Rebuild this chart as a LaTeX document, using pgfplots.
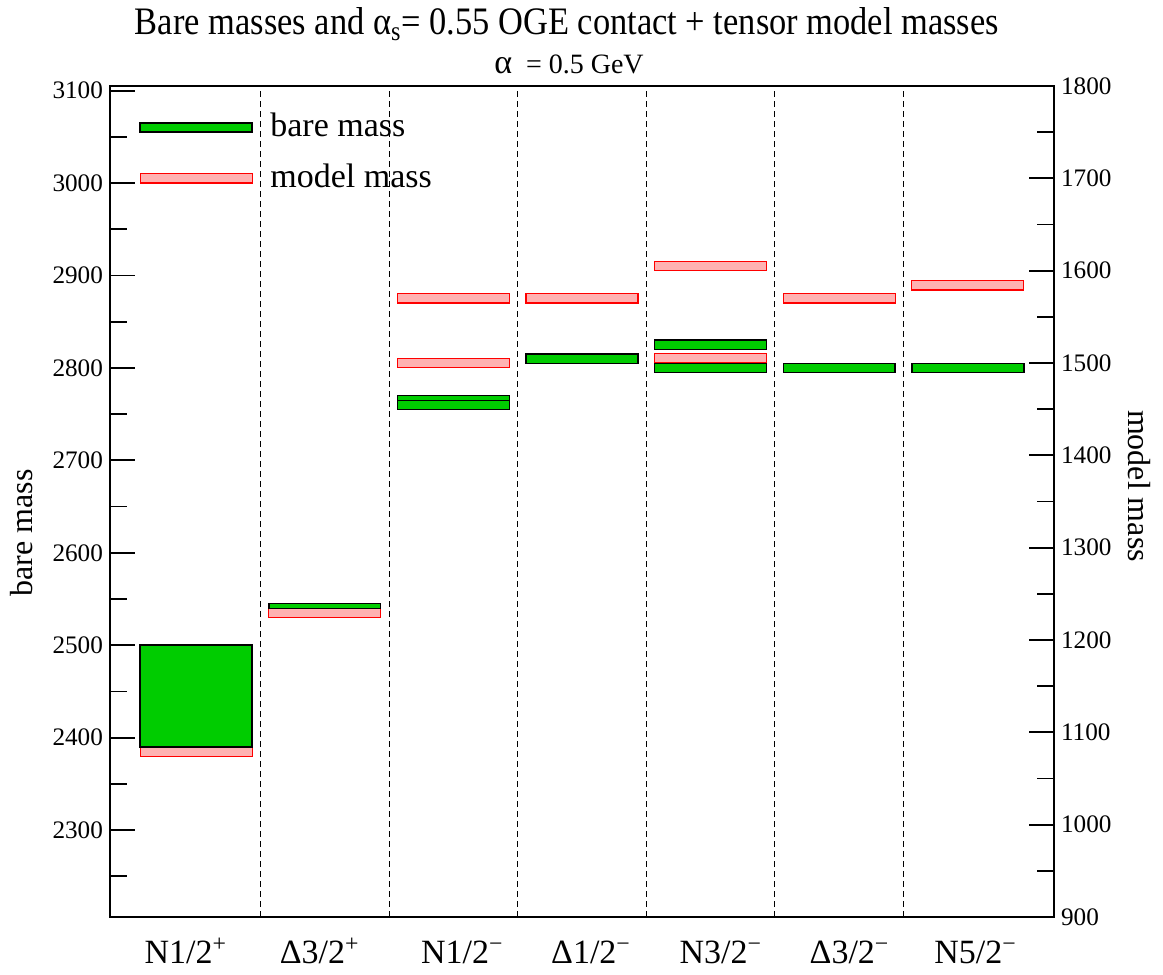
\documentclass[border=0pt]{standalone}
\usepackage{fontspec}
\setmainfont{Liberation Serif}
\usepackage{pgfplots}
\pgfplotsset{compat=1.18}
\definecolor{bgreen}{RGB}{0,204,0}
\definecolor{mpink}{RGB}{255,178,178}
\definecolor{mred}{RGB}{255,0,0}
\pgfplotsset{
  common/.style={
    at={(0,0)}, anchor=south west, scale only axis,
    width=472pt, height=415.5pt,
    xmin=0.33, xmax=7.67,
    tick align=inside,
    major tick length=12.5pt, minor tick length=8.5pt,
    every tick/.style={black, line width=0.9pt},
    axis line style={line width=0.9pt},
    /pgf/number format/assume math mode=true,
    /pgf/number format/1000 sep={},
    yticklabel style={font=\fontsize{12.6}{15}\selectfont},
  },
  gbox/.style={draw=black, fill=bgreen, line width=0.75pt},
  pbox/.style={draw=mred, fill=mpink, line width=0.6pt},
}
\begin{document}
\begin{tikzpicture}
\path[use as bounding box] (-55pt,-29pt) rectangle (526.5pt,458.5pt);

% right axis: model masses
\begin{axis}[common,
  ymin=900, ymax=1800,
  axis x line=none, axis y line*=right,
  ytick={900,1000,...,1800},
  minor ytick={950,1050,...,1750},
]
\addplot[pbox] coordinates {(0.565,1074) (1.435,1074) (1.435,1085) (0.565,1085)} -- cycle;
\addplot[pbox] coordinates {(1.565,1224) (2.435,1224) (2.435,1235) (1.565,1235)} -- cycle;
\addplot[pbox] coordinates {(2.565,1565) (3.435,1565) (3.435,1575) (2.565,1575)} -- cycle;
\addplot[pbox] coordinates {(2.565,1495) (3.435,1495) (3.435,1505) (2.565,1505)} -- cycle;
\addplot[pbox] coordinates {(3.565,1565) (4.435,1565) (4.435,1575) (3.565,1575)} -- cycle;
\addplot[pbox] coordinates {(4.565,1600) (5.435,1600) (5.435,1610) (4.565,1610)} -- cycle;
\addplot[pbox] coordinates {(4.565,1500) (5.435,1500) (5.435,1510) (4.565,1510)} -- cycle;
\addplot[pbox] coordinates {(5.565,1565) (6.435,1565) (6.435,1575) (5.565,1575)} -- cycle;
\addplot[pbox] coordinates {(6.565,1579) (7.435,1579) (7.435,1589) (6.565,1589)} -- cycle;
\end{axis}

% left axis: bare masses
\begin{axis}[common,
  ymin=2206, ymax=3105,
  ytick={2300,2400,...,3100},
  minor ytick={2250,2350,...,3050},
  ytick pos=left,
  xtick={0.92,1.96,3.07,4.07,5.08,6.08,7.06},
  xticklabels={N1/2\textsuperscript{+}, Δ3/2\textsuperscript{+}, N1/2\textsuperscript{−}, Δ1/2\textsuperscript{−}, N3/2\textsuperscript{−}, Δ3/2\textsuperscript{−}, N5/2\textsuperscript{−}},
  xtick style={draw=none},
  xticklabel style={font=\fontsize{17}{20}\selectfont, anchor=base, yshift=-23.5pt},
  clip=false,
]
\addplot[black, dashed, line width=0.5pt, dash pattern=on 2.8pt off 2.2pt] coordinates {(1.5,2206) (1.5,3105)};
\addplot[black, dashed, line width=0.5pt, dash pattern=on 2.8pt off 2.2pt] coordinates {(2.5,2206) (2.5,3105)};
\addplot[black, dashed, line width=0.5pt, dash pattern=on 2.8pt off 2.2pt] coordinates {(3.5,2206) (3.5,3105)};
\addplot[black, dashed, line width=0.5pt, dash pattern=on 2.8pt off 2.2pt] coordinates {(4.5,2206) (4.5,3105)};
\addplot[black, dashed, line width=0.5pt, dash pattern=on 2.8pt off 2.2pt] coordinates {(5.5,2206) (5.5,3105)};
\addplot[black, dashed, line width=0.5pt, dash pattern=on 2.8pt off 2.2pt] coordinates {(6.5,2206) (6.5,3105)};

\addplot[gbox] coordinates {(0.565,2390) (1.435,2390) (1.435,2500) (0.565,2500)} -- cycle;
\addplot[gbox] coordinates {(1.565,2540) (2.435,2540) (2.435,2545) (1.565,2545)} -- cycle;
\addplot[gbox] coordinates {(2.565,2765) (3.435,2765) (3.435,2770) (2.565,2770)} -- cycle;
\addplot[gbox] coordinates {(2.565,2755) (3.435,2755) (3.435,2765) (2.565,2765)} -- cycle;
\addplot[gbox] coordinates {(3.565,2805) (4.435,2805) (4.435,2815) (3.565,2815)} -- cycle;
\addplot[gbox] coordinates {(4.565,2820) (5.435,2820) (5.435,2830) (4.565,2830)} -- cycle;
\addplot[gbox] coordinates {(4.565,2795) (5.435,2795) (5.435,2805) (4.565,2805)} -- cycle;
\addplot[gbox] coordinates {(5.565,2795) (6.435,2795) (6.435,2805) (5.565,2805)} -- cycle;
\addplot[gbox] coordinates {(6.565,2795) (7.435,2795) (7.435,2805) (6.565,2805)} -- cycle;

% legend
\addplot[gbox] coordinates {(0.565,3055) (1.435,3055) (1.435,3065) (0.565,3065)} -- cycle;
\addplot[pbox] coordinates {(0.565,3000) (1.435,3000) (1.435,3010) (0.565,3010)} -- cycle;
\node[anchor=base west, inner sep=0pt, font=\fontsize{17}{20}\selectfont] at (axis cs:1.574,3050.3) {bare mass};
\node[anchor=base west, inner sep=0pt, font=\fontsize{17}{20}\selectfont] at (axis cs:1.574,2994.8) {model mass};
\end{axis}

% titles and axis labels
\node[anchor=base, inner sep=0pt] at (228.5pt,441pt) {\resizebox{432pt}{13.5pt}{\fontsize{17}{20}\selectfont Bare masses and α\textsubscript{s}= 0.55 OGE contact + tensor model masses}};
\node[anchor=base, inner sep=0pt, font=\fontsize{14}{17}\selectfont] at (229.5pt,421.8pt) {{\fontsize{17}{20}\selectfont α}\ \ = 0.5 GeV};
\node[rotate=90, inner sep=0pt, font=\fontsize{16}{19}\selectfont] at (-44pt,192pt) {bare mass};
\node[rotate=-90, inner sep=0pt, font=\fontsize{16}{19}\selectfont] at (514.5pt,215.5pt) {model mass};
\end{tikzpicture}
\end{document}
